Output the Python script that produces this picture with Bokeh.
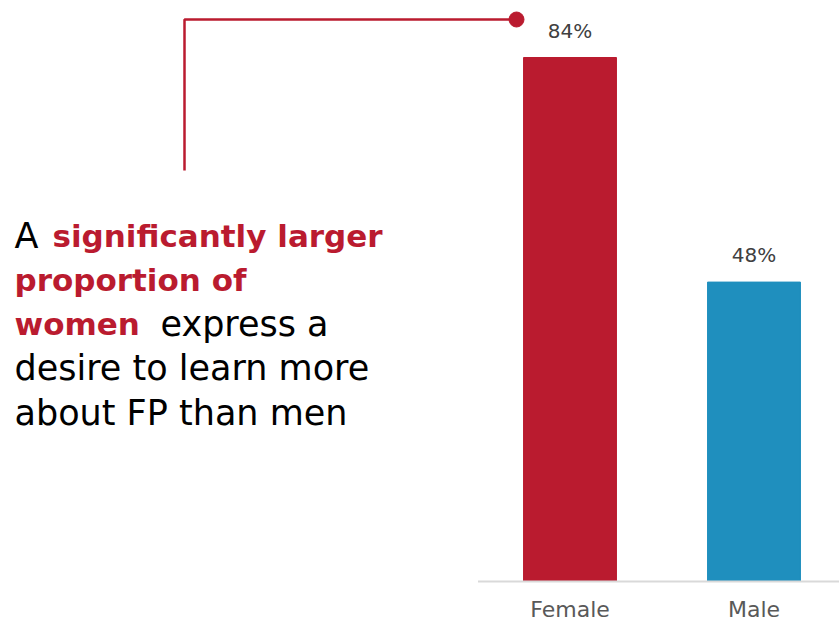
from bokeh.plotting import figure
from bokeh.models import Range1d, ColumnDataSource, Label
from bokeh.core.properties import value
from bokeh.embed import file_html
from bokeh.resources import INLINE

categories = ["Female", "Male"]
values = [84, 48]
value_labels = ["84%", "48%"]
bar_colors = ["#BA1B2F", "#1F8FBE"]

RED = "#BA1B2F"
FONT = "DejaVu Sans"

W, H = 839, 623
BASE_PX = 581          # screen row of the baseline
PX_PER_UNIT_X = 184.0
X0_PX = 569.5
Y_TOP = 93.14          # percent at top of canvas
PX_PER_PCT = BASE_PX / Y_TOP
Y_BOTTOM = -(H - BASE_PX) / PX_PER_PCT

def sx(px):
    return (px - X0_PX) / PX_PER_UNIT_X

def sy(py):
    return (BASE_PX - py) / PX_PER_PCT

xs = list(range(len(categories)))
src = ColumnDataSource(dict(x=xs, top=values, color=bar_colors, label=value_labels,
                            cat=categories, zero=[0] * len(xs)))

p = figure(width=W, height=H, output_backend="svg", toolbar_location=None,
           x_range=Range1d(sx(0), sx(W)), y_range=Range1d(Y_BOTTOM, Y_TOP),
           min_border=0)
p.outline_line_color = None
p.xgrid.visible = False
p.ygrid.visible = False
p.xaxis.visible = False
p.yaxis.visible = False
p.background_fill_color = "white"
p.border_fill_color = "white"

# bars
p.vbar(x="x", top="top", bottom=0, width=0.505, color="color", source=src)

# baseline from first category's left boundary to the right edge
p.segment(x0=[xs[0] - 0.5], y0=[0], x1=[sx(W)], y1=[0], line_color="#D9D9D9", line_width=2)

# value labels
p.text(x="x", y="top", text="label", source=src, text_align="center", text_baseline="middle",
       y_offset=-27, text_font=value(FONT), text_font_size="20px", text_color="#404040")

# category labels
p.text(x="x", y="zero", text="cat", source=src, text_align="center", text_baseline="middle",
       y_offset=28, text_font=value(FONT), text_font_size="22px", text_color="#595959")

# connector
p.line(x=[sx(184), sx(184), sx(516)], y=[sy(170), sy(19), sy(19)], line_color=RED, line_width=2.5)
p.scatter(x=[sx(516)], y=[sy(19)], size=15, color=RED)

# annotation text
segments = [
    ("A ", 14, 235, "normal", "#000000"),
    ("significantly larger", 52, 235, "bold", RED),
    ("proportion of", 14, 279, "bold", RED),
    ("women", 14, 323, "bold", RED),
    ("express a", 160, 323, "normal", "#000000"),
    ("desire to learn more", 14, 367, "normal", "#000000"),
    ("about FP than men", 14, 412, "normal", "#000000"),
]
for txt, px, py, style, col in segments:
    size = "31px" if style == "bold" else "35px"
    p.add_layout(Label(x=sx(px), y=sy(py), text=txt, text_font=FONT, text_font_size=size,
                       text_font_style=style, text_color=col, text_baseline="alphabetic",
                       text_align="left"))

open("out.html", "w").write(file_html(p, INLINE))
